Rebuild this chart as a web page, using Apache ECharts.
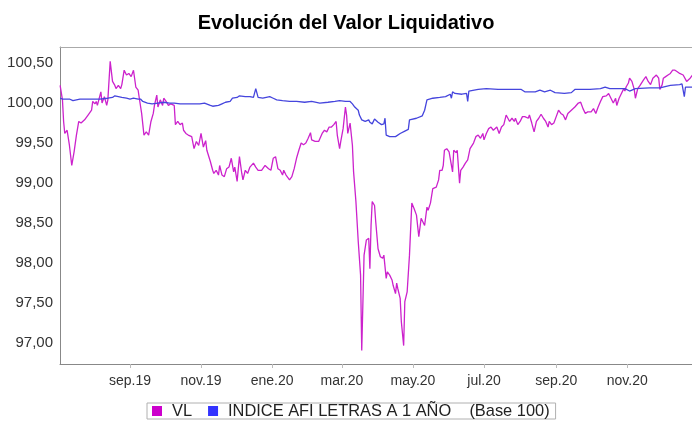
<!DOCTYPE html>
<html><head><meta charset="utf-8">
<script src="https://cdn.jsdelivr.net/npm/echarts@6/dist/echarts.min.js"></script>
<style>html,body{margin:0;padding:0;background:#fff}#c{width:692px;height:422px}</style>
</head><body><div id="c"></div>
<script>
// Day offsets counted from startDate (2019-07-01)
const startDate = '2019-07-01';
const axisStartDay = 1.9;
const axisEndDay = 544.6;

const vlDays = [2,4,5,6,8,10,12,14,16,18,20,23,26,29,30,32,33,34,37,38,40,42,43,45,47,49,50,52,54,55,57,59,61,63,65,67,69,70,72,74,76,78,80,82,83,85,86,88,90,91,93,95,97,100,101,103,105,107,108,110,112,115,117,119,121,123,125,127,128,131,133,134,136,138,139,141,143,145,147,149,151,152,154,155,156,158,159,161,163,165,168,170,172,175,178,181,183,185,187,189,191,193,194,196,199,201,203,205,207,209,211,213,215,217,218,221,224,227,229,231,233,235,237,239,240,242,243,245,247,248,249,251,253,254,256,258,260,261,263,265,267,268,269,270,272,273,275,277,279,280,282,283,285,287,288,290,291,292,294,295,297,298,300,302,304,306,308,309,310,312,313,315,317,318,320,322,325,327,328,330,331,332,334,336,337,339,340,342,343,345,346,348,350,352,354,355,357,359,361,363,365,366,368,370,372,374,375,377,379,381,383,385,386,388,390,392,393,395,397,399,401,404,405,407,409,411,413,415,417,419,421,422,424,426,428,430,432,434,436,438,441,444,447,449,451,453,455,456,458,460,462,464,466,468,471,473,475,477,479,480,482,484,486,487,488,490,491,493,495,496,498,500,503,505,507,509,511,514,516,517,519,520,522,524,526,528,530,532,534,537,538,540,543,545];
const vlValues = [100.22,100.04,99.77,99.62,99.66,99.47,99.22,99.39,99.60,99.77,99.75,99.79,99.85,99.91,100.02,99.99,100.02,99.97,100.14,100.00,100.08,99.97,100.04,100.52,100.27,100.22,100.18,100.22,100.18,100.23,100.41,100.35,100.37,100.33,100.41,100.20,100.16,100.06,99.87,99.60,99.64,99.60,99.77,99.87,99.97,100.10,99.95,100.04,99.97,100.06,100.02,99.97,99.99,99.97,99.73,99.77,99.73,99.75,99.66,99.62,99.60,99.58,99.43,99.52,99.47,99.62,99.45,99.53,99.41,99.27,99.16,99.12,99.16,99.10,99.22,99.10,99.08,99.18,99.20,99.31,99.14,99.20,99.02,99.18,99.33,99.12,99.04,99.16,99.12,99.20,99.25,99.20,99.16,99.16,99.22,99.18,99.16,99.31,99.33,99.18,99.16,99.10,99.16,99.10,99.04,99.08,99.18,99.31,99.41,99.50,99.48,99.50,99.56,99.63,99.54,99.52,99.52,99.62,99.66,99.64,99.70,99.70,99.73,99.77,99.60,99.43,99.52,99.68,99.95,99.85,99.62,99.75,99.47,99.14,98.77,98.27,97.85,96.91,98.10,98.29,98.31,97.93,98.47,98.77,98.72,98.52,98.18,98.08,98.06,98.10,97.81,97.89,97.85,97.79,97.72,97.62,97.75,97.68,97.56,97.27,96.97,97.52,97.64,98.10,98.75,98.68,98.60,98.58,98.33,98.56,98.58,98.47,98.70,98.66,98.75,98.93,98.95,99.04,99.16,99.16,99.22,99.41,99.43,99.39,99.41,99.14,99.41,99.38,99.41,99.00,99.16,99.20,99.25,99.29,99.43,99.45,99.50,99.58,99.60,99.56,99.62,99.54,99.62,99.68,99.70,99.66,99.64,99.70,99.62,99.70,99.73,99.85,99.83,99.77,99.81,99.77,99.81,99.73,99.77,99.83,99.83,99.81,99.85,99.75,99.64,99.77,99.81,99.86,99.81,99.77,99.70,99.77,99.73,99.75,99.83,99.91,99.87,99.85,99.79,99.87,99.91,99.95,100.00,100.01,99.93,99.87,99.89,99.91,99.89,99.93,99.87,99.95,100.02,100.08,100.09,100.12,100.06,100.00,100.06,99.97,100.06,100.12,100.18,100.15,100.20,100.25,100.31,100.27,100.17,100.06,100.18,100.22,100.29,100.33,100.27,100.23,100.31,100.35,100.31,100.17,100.23,100.31,100.33,100.35,100.37,100.41,100.41,100.39,100.37,100.35,100.37,100.27,100.31,100.35];

const idxDays = [2,4,10,13,19,32,36,43,47,49,52,55,59,62,65,69,71,73,77,81,86,91,96,100,105,113,122,126,131,133,138,141,144,148,150,154,156,161,165,168,170,172,176,179,182,185,188,193,199,205,212,218,225,232,238,242,247,251,253,255,258,259,261,264,267,268,270,272,275,278,280,281,282,285,290,294,298,301,302,308,313,315,317,322,328,333,337,338,339,341,347,351,352,353,361,368,378,388,398,401,410,414,418,423,427,435,441,444,457,466,470,474,487,491,496,508,517,526,534,536,538,539,545];
const idxValues = [100.06,100.05,100.05,100.03,100.05,100.05,100.05,100.06,100.07,100.09,100.08,100.07,100.06,100.05,100.06,100.05,100.05,100.02,100.00,99.99,100.00,100.01,100.00,100.00,99.99,99.99,99.99,100.00,99.97,99.96,99.97,99.99,100.01,100.02,100.06,100.07,100.09,100.08,100.08,100.07,100.18,100.07,100.06,100.07,100.08,100.06,100.04,100.03,100.02,100.02,100.01,100.02,100.00,100.01,100.02,100.03,100.02,100.02,99.99,99.95,99.91,99.85,99.79,99.77,99.79,99.76,99.74,99.80,99.76,99.73,99.74,99.81,99.60,99.58,99.58,99.62,99.65,99.67,99.79,99.81,99.84,99.91,100.04,100.06,100.07,100.08,100.11,100.06,100.14,100.12,100.11,100.12,100.02,100.15,100.17,100.18,100.17,100.17,100.17,100.14,100.14,100.16,100.14,100.16,100.13,100.12,100.13,100.17,100.17,100.18,100.20,100.18,100.18,100.15,100.18,100.19,100.19,100.22,100.23,100.24,100.08,100.20,100.20];

const tickDates = ['2019-09-01','2019-11-01','2020-01-01','2020-03-01','2020-05-01','2020-07-01','2020-09-01','2020-11-01'];
const tickLabels = ['sep.19','nov.19','ene.20','mar.20','may.20','jul.20','sep.20','nov.20'];
const yTicks = [97.0,97.5,98.0,98.5,99.0,99.5,100.0,100.5];
const yMin = 96.74, yMax = 100.70;

const seriesNames = ['VL', 'INDICE AFI LETRAS A 1 AÑO    (Base 100)'];
const titleText = 'Evolución del Valor Liquidativo';

const DAY = 86400000;
const t0 = Date.parse(startDate + 'T00:00:00Z');
const tickDays = tickDates.map(s => Math.round((Date.parse(s + 'T00:00:00Z') - t0) / DAY));
const FONT = '"Liberation Sans", Arial, sans-serif';

const chart = echarts.init(document.getElementById('c'), null, {renderer: 'canvas'});
chart.setOption({
  animation: false,
  backgroundColor: '#fff',
  title: {
    text: titleText, left: 'center', top: 8,
    textStyle: {fontFamily: FONT, fontSize: 20, fontWeight: 'bold', color: '#000'}
  },
  grid: {left: 60, right: 0, top: 47, bottom: 58, containLabel: false},
  legend: {
    data: seriesNames, left: 147, top: 403, icon: 'rect', itemWidth: 10, itemHeight: 10, itemGap: 16,
    borderColor: '#b0b0b0', borderWidth: 1, padding: [0, 6, 0, 5],
    textStyle: {fontFamily: FONT, fontSize: 16.4, color: '#222', padding: [0, 0, 0, 5]}
  },
  xAxis: [{
    type: 'value', min: axisStartDay, max: axisEndDay,
    axisLine: {lineStyle: {color: '#888', width: 1}},
    axisTick: {show: true, length: 4, lineStyle: {color: '#bbb'}, customValues: tickDays},
    axisLabel: {
      customValues: tickDays, margin: 10, fontFamily: FONT, fontSize: 14, color: '#333',
      formatter: v => { const i = tickDays.indexOf(Math.round(v)); return i >= 0 ? tickLabels[i] : ''; }
    },
    splitLine: {show: false}
  }, {
    type: 'value', position: 'top', min: axisStartDay, max: axisEndDay,
    axisLine: {show: true, lineStyle: {color: '#aaa', width: 1}},
    axisTick: {show: false}, axisLabel: {show: false}, splitLine: {show: false}
  }],
  yAxis: {
    type: 'value', min: yMin, max: yMax,
    axisLine: {show: true, lineStyle: {color: '#888', width: 1}},
    axisTick: {show: false},
    splitLine: {show: false},
    axisLabel: {
      customValues: yTicks, margin: 7, fontFamily: FONT, fontSize: 15, color: '#333',
      formatter: v => v.toFixed(2).replace('.', ',')
    }
  },
  series: [{
    name: seriesNames[0], type: 'line', showSymbol: false, symbol: 'none',
    lineStyle: {width: 1.3, color: '#cc22cc'}, itemStyle: {color: '#cc00cc'},
    data: vlDays.map((d, i) => [d, vlValues[i]])
  }, {
    name: seriesNames[1], type: 'line', showSymbol: false, symbol: 'none',
    lineStyle: {width: 1.3, color: '#4545dd'}, itemStyle: {color: '#3333ff'},
    data: idxDays.map((d, i) => [d, idxValues[i]])
  }]
});
</script></body></html>
